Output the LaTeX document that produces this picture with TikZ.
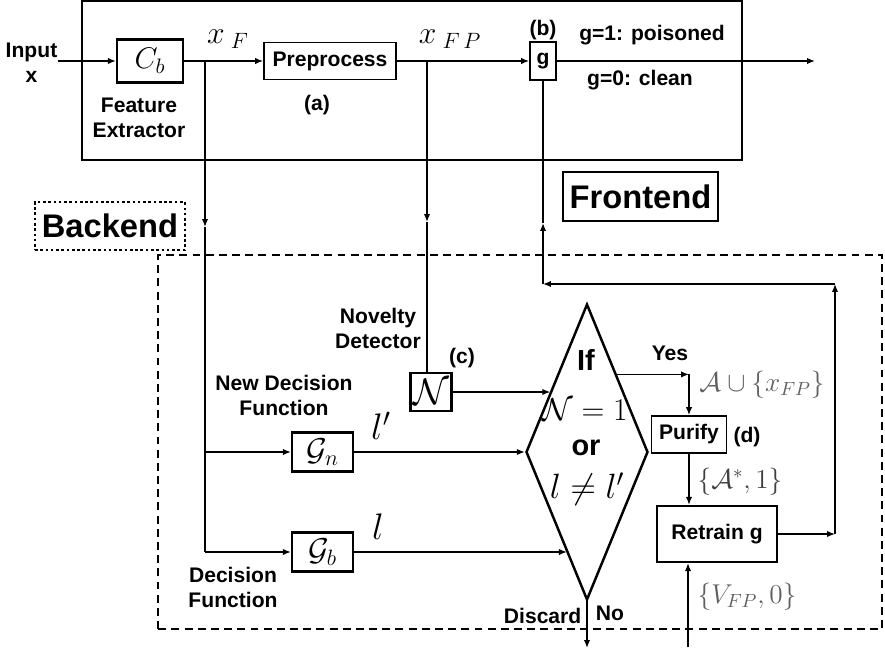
\RequirePackage{fix-cm}
\documentclass[tikz,border=0pt]{standalone}
\usepackage{fontspec}
\setsansfont{Liberation Sans}
\usepackage{amsmath}
\usepackage{amssymb}
\usepackage{tikz}
\usetikzlibrary{calc,arrows.meta,shapes.geometric}
\definecolor{lblgray}{RGB}{95,95,95}

\begin{document}
\begin{tikzpicture}[
  font=\sffamily\bfseries\fontsize{12}{14.2}\selectfont,
  line width=0.8pt,
  >={Latex[length=4.5pt,width=3.6pt]},
  blk/.style={draw, line width=1.3pt, inner sep=0pt},
  thinblk/.style={draw, line width=1pt, inner sep=0pt},
  txt/.style={align=center, inner sep=0pt},
  bigmath/.style={inner sep=0pt, font=\fontsize{18}{20}\selectfont},
  setmath/.style={inner sep=0pt, text=lblgray, font=\fontsize{15.5}{18}\selectfont},
  tag/.style={inner sep=0pt, font=\sffamily\bfseries\fontsize{18.6}{22}\selectfont},
]
\useasboundingbox (0,0) rectangle (17.7,13.18);

% Frontend
\draw (1.64,9.98) rectangle (14.84,13.16);
\node[txt] (inp) at (0.63,11.92) {Input\\x};
\node[blk, minimum width=1.32cm, minimum height=0.86cm, font=\fontsize{17}{19}\selectfont] (cb) at (3.0,11.96) {$C_b$};
\node[txt] (fe) at (2.78,10.82) {Feature\\Extractor};
\node[thinblk, minimum width=2.64cm, minimum height=0.74cm] (pre) at (6.6,11.96) {Preprocess};
\node[txt] (la) at (6.34,11.08) {(a)};
\node[thinblk, minimum width=0.52cm, minimum height=0.76cm] (gate) at (10.86,11.96) {g};
\node[txt] (lb) at (10.86,12.58) {(b)};
\node[txt] (g1) at (13.04,12.48) {g=1: poisoned};
\node[txt] (g0) at (12.80,11.58) {g=0: clean};
\node[bigmath] (xf) at (4.56,12.40) {$x_{\;F}$};
\node[bigmath] (xfp) at (9.0,12.40) {$x_{\;F\,P}$};

\coordinate (bF) at (4.10,11.96);
\coordinate (bFP) at (8.54,11.96);
\coordinate (out) at (16.3,11.96);
\draw[->] (inp.east |- cb.west) -- (cb.west);
\draw[->] (cb.east) -- (pre.west);
\draw[->] (pre.east) -- (gate.west);
\draw[->] (gate.east) -- (out);

\node[draw, minimum width=3.1cm, minimum height=0.98cm, tag] (fl) at (12.81,9.25) {Frontend};

% Backend
\draw[dash pattern=on 4.5pt off 3pt] (3.16,0.60) rectangle (17.64,8.08);
\node[draw, dash pattern=on 1.5pt off 1.5pt, minimum width=3.0cm, minimum height=0.96cm, tag] (bl) at (2.20,8.66) {Backend};

\node[blk, minimum width=1.22cm, minimum height=0.78cm, font=\fontsize{18}{20}\selectfont] (gnew) at (6.45,4.14) {$\mathcal{G}_n$};
\node[blk, minimum width=1.22cm, minimum height=0.78cm, font=\fontsize{18}{20}\selectfont] (gbase) at (6.45,2.14) {$\mathcal{G}_b$};
\node[txt] (ndf) at (5.68,5.28) {New Decision\\Function};
\node[txt] (df) at (4.66,1.44) {Decision\\Function};
\node[bigmath, font=\fontsize{21}{24}\selectfont] (lp) at (7.62,4.66) {$l'$};
\node[bigmath, font=\fontsize{21}{24}\selectfont] (l) at (7.56,2.64) {$l$};

\node[blk, minimum width=0.82cm, minimum height=0.76cm, font=\fontsize{21}{24}\selectfont] (nov) at (8.62,5.34) {$\mathcal{N}$};
\node[txt] (nd) at (7.56,6.62) {Novelty\\Detector};
\node[txt] (lc) at (9.24,6.02) {(c)};

\coordinate (tF) at (4.10,8.64);
\coordinate (eF) at (4.10,2.14);
\coordinate (tFP) at (8.54,8.74);
\draw[->] (bF) -- (tF);
\draw (tF) -- (eF);
\draw[->] (bF |- gnew) -- (gnew.west);
\draw[->] (eF) -- (gbase.west);
\draw[->] (bFP) -- (tFP);
\draw (tFP) -- (tFP |- nov.north);

% decision
\node[diamond, draw, line width=1.4pt, minimum width=2.44cm, minimum height=5.92cm, inner sep=0pt] (dia) at (11.74,4.14) {};
\node[inner sep=0pt, font=\sffamily\bfseries\fontsize{16.5}{18}\selectfont] (dif) at (11.72,5.98) {If};
\node[bigmath] (dn) at (11.70,4.98) {$\mathcal{N}=1$};
\node[inner sep=0pt, font=\sffamily\bfseries\fontsize{16.5}{18}\selectfont] (dor) at (11.72,4.22) {or};
\node[bigmath, font=\fontsize{20}{22}\selectfont] (dl) at (11.74,3.40) {$l\neq l'$};

\coordinate (inN) at ($(dia.west)!0.41!(dia.north)$);
\coordinate (inB) at ($(dia.west)!0.676!(dia.south)$);
\draw[->] (nov.east) -- (nov.east -| inN);
\draw[->] (gnew.east) -- (dia.west);
\draw[->] (gbase.east) -- (gbase.east -| inB);

% purify and retrain
\node[thinblk, minimum width=1.5cm, minimum height=0.74cm] (pur) at (13.78,4.49) {Purify};
\node[blk, minimum width=2.4cm, minimum height=1.12cm] (ret) at (14.34,2.50) {Retrain g};
\node[txt] (ld) at (14.94,4.44) {(d)};
\node[txt] (yes) at (13.40,6.12) {Yes};
\node[txt] (no) at (12.20,0.92) {No};
\node[txt, anchor=east] (disc) at (11.64,0.86) {Discard};
\node[setmath] (sa) at (15.24,5.48) {$\mathcal{A}\cup\{x_{FP}\}$};
\node[setmath, text=black!75] (sb) at (14.80,3.54) {$\{\mathcal{A}^{*},1\}$};
\node[setmath] (sv) at (14.94,1.24) {$\{V_{FP},0\}$};

\coordinate (yS) at ($(dia.east)!0.52!(dia.north)$);
\coordinate (yE) at (yS -| pur.north);
\draw[->] (yS) -- (yE);
\draw[->] (yE) -- (pur.north);
\draw[->] (pur.south) -- (pur.south |- ret.north);

\coordinate (rR) at (16.7,2.50);
\coordinate (rT) at (16.7,7.50);
\coordinate (rL) at (10.86,7.50);
\coordinate (gU) at (10.86,8.72);
\draw[->] (ret.east) -- (rR);
\draw[->] (rR) -- (rT);
\draw[->] (rT) -- (rL);
\draw[->] (rL) -- (gU);
\draw (gU) -- (gate.south);

\coordinate (vIn) at (13.76,0.24);
\coordinate (dOut) at (11.74,0.22);
\draw[->] (vIn) -- (vIn |- ret.south);
\draw[->] (dia.south) -- (dOut);
\end{tikzpicture}
\end{document}
